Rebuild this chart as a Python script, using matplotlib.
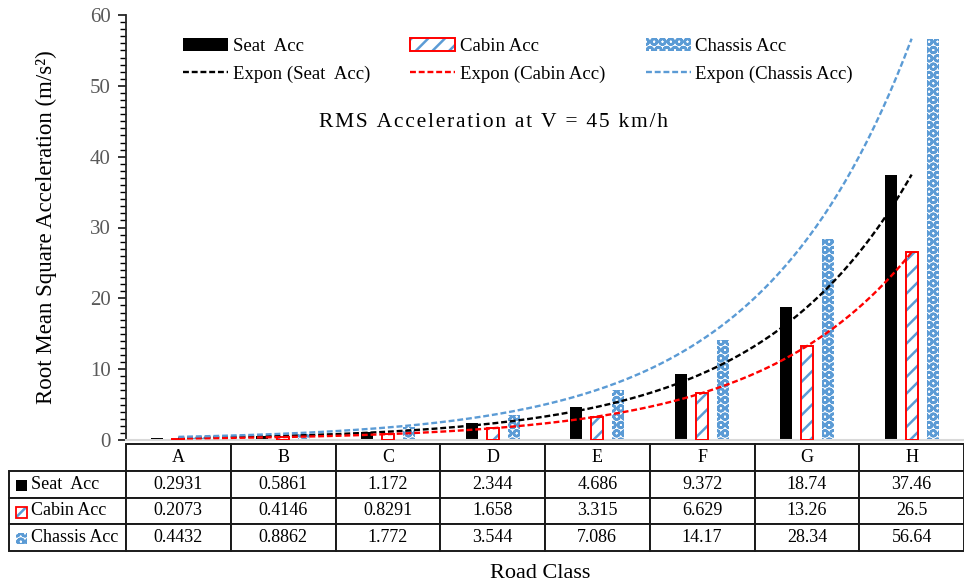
import numpy as np
import matplotlib
matplotlib.use('Agg')
import matplotlib.pyplot as plt
from matplotlib.patches import Rectangle
from matplotlib.ticker import MultipleLocator

plt.rcParams['font.family'] = ['Liberation Serif', 'DejaVu Serif']
plt.rcParams['hatch.linewidth'] = 1.8

road_class = ['A', 'B', 'C', 'D', 'E', 'F', 'G', 'H']
seat_acc = [0.2931, 0.5861, 1.172, 2.344, 4.686, 9.372, 18.74, 37.46]
cabin_acc = [0.2073, 0.4146, 0.8291, 1.658, 3.315, 6.629, 13.26, 26.5]
chassis_acc = [0.4432, 0.8862, 1.772, 3.544, 7.086, 14.17, 28.34, 56.64]
series_names = ['Seat  Acc', 'Cabin Acc', 'Chassis Acc']

BLUE = '#5B9BD5'
RED = '#FF0000'

fig = plt.figure(figsize=(9.64, 5.84), dpi=100)
ax = fig.add_axes([126 / 964, 1 - 440 / 584, 1 - 126 / 964, 425 / 584])

x = np.arange(len(road_class))
w = 0.115
off = 0.2

b_seat = ax.bar(x - off, seat_acc, w, color='black', zorder=2)
b_cab_h = ax.bar(x, cabin_acc, w, facecolor='white', edgecolor=BLUE, hatch='//', lw=0, zorder=2)
b_cab_e = ax.bar(x, cabin_acc, w, facecolor='none', edgecolor=RED, lw=1.4, zorder=3)
b_chs = ax.bar(x + off, chassis_acc, w, facecolor='white', edgecolor=BLUE, hatch='OO', lw=0, zorder=2)

# Lineas de tendencia exponencial (ajuste tipo Excel: ln(y) ~ x)
xf = np.arange(1, len(road_class) + 1)
xx = np.linspace(1, len(road_class), 200)
dash = (0, (2.5, 1.2))
trend = []
for vals, col in [(seat_acc, 'black'), (cabin_acc, RED), (chassis_acc, BLUE)]:
    k, c = np.polyfit(xf, np.log(vals), 1)
    ln, = ax.plot(xx - 1, np.exp(c + k * xx), color=col, lw=1.7, ls=dash, zorder=4)
    trend.append(ln)

ax.set_xlim(-0.5, len(road_class) - 0.5)
ax.set_ylim(0, 60)
ax.yaxis.set_major_locator(MultipleLocator(10))
ax.yaxis.set_minor_locator(MultipleLocator(1))
ax.tick_params(axis='y', which='major', length=6, width=1.1, labelsize=15,
               labelcolor='#595959', pad=5)
ax.tick_params(axis='y', which='minor', length=4, width=1.0)
ax.tick_params(axis='x', bottom=False, labelbottom=False)
for s in ['top', 'right']:
    ax.spines[s].set_visible(False)
ax.spines['left'].set_color('#262626')
ax.spines['left'].set_linewidth(1.3)
ax.spines['bottom'].set_color('#D9D9D9')
ax.spines['bottom'].set_linewidth(1.5)

ax.set_ylabel('Root Mean Square Acceleration (m/s²)', fontsize=16.5, labelpad=24)

handles = [b_seat, trend[0], (b_cab_h, b_cab_e), trend[1], b_chs, trend[2]]
labels = ['Seat  Acc', 'Expon (Seat  Acc)', 'Cabin Acc', 'Expon (Cabin Acc)',
          'Chassis Acc', 'Expon (Chassis Acc)']
ax.legend(handles, labels, ncol=3, frameon=False, fontsize=13.5,
          loc='upper left', bbox_to_anchor=(0.068, 0.946), borderaxespad=0,
          borderpad=0, handlelength=2.4, handletextpad=0.25, columnspacing=2.15,
          labelspacing=0.55)

title = '\u200a'.join('RMS Acceleration at V = 45 km/h')
ax.text(0.438, 0.746, title, transform=ax.transAxes, ha='center', va='center',
        fontsize=15.5)

# Tabla de datos
cell_text = [[name] + ['{:.4g}'.format(v) for v in vals]
             for name, vals in zip(series_names, [seat_acc, cabin_acc, chassis_acc])]
ax_w = 838.0
lab_w = 117.0
col_w = [lab_w / ax_w] + [(ax_w / len(road_class)) / ax_w] * len(road_class)
tbl = ax.table(cellText=cell_text, colLabels=[''] + road_class, colWidths=col_w,
               cellLoc='center',
               bbox=[-lab_w / ax_w, -111 / 425, 1 + lab_w / ax_w, 107 / 425])
tbl.auto_set_font_size(False)
tbl.set_fontsize(13)
for (r, c), cell in tbl.get_celld().items():
    cell.set_linewidth(1.4)
    cell.set_edgecolor('#1a1a1a')
    if r == 0 and c == 0:
        cell.visible_edges = ''
    if c == 0 and r > 0:
        cell.get_text().set_ha('left')
        cell.PAD = 0.19
        cell._loc = 'left'

# claves de la leyenda en la tabla
row_cy = [485.5, 512, 538.5]
styles = [dict(facecolor='black', edgecolor='black', lw=0),
          dict(facecolor='white', edgecolor=BLUE, hatch='//', lw=0),
          dict(facecolor='white', edgecolor=BLUE, hatch='OO', lw=0)]
for cy, st in zip(row_cy, styles):
    fig.patches.append(Rectangle((16 / 964, 1 - (cy + 5.5) / 584), 11 / 964, 11 / 584,
                                 transform=fig.transFigure, **st))
fig.patches.append(Rectangle((16 / 964, 1 - (row_cy[1] + 5.5) / 584), 11 / 964, 11 / 584,
                             transform=fig.transFigure, facecolor='none',
                             edgecolor=RED, lw=1.3))

fig.text(540 / 964, 1 - 573 / 584, 'Road Class', ha='center', va='center', fontsize=16)

fig.savefig('out.png', dpi=100)
